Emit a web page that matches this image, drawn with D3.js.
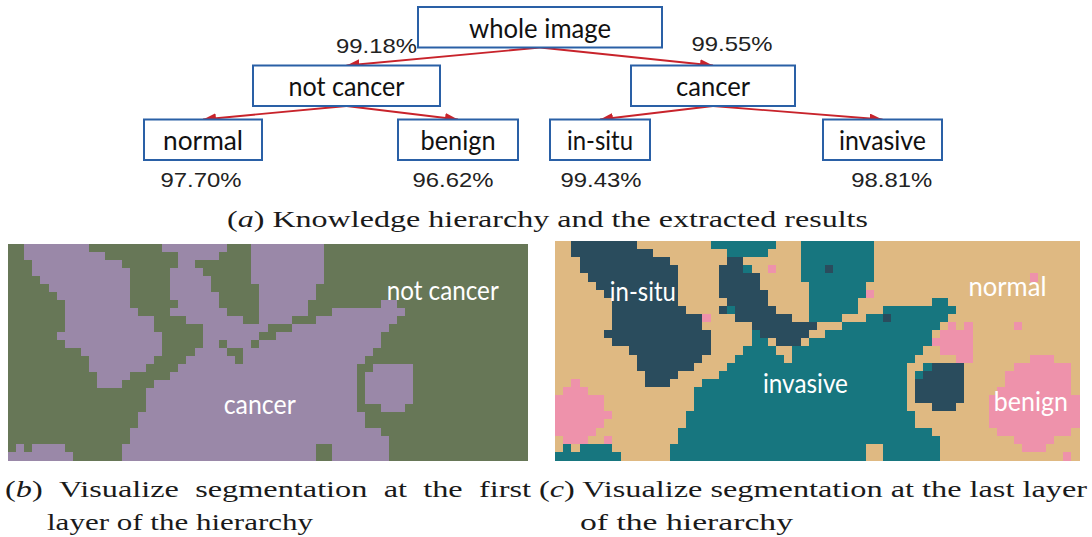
<!DOCTYPE html>
<html>
<head>
<meta charset="utf-8">
<script src="https://cdn.jsdelivr.net/npm/d3@7"></script>
<style>
  body { margin: 0; background: #fff; }
  svg { display: block; }
</style>
</head>
<body>
<svg width="1092" height="537"></svg>
<script>
// ---------- data ----------
// knowledge hierarchy
const treeNames   = ['whole image', 'not cancer', 'cancer', 'normal', 'benign', 'in-situ', 'invasive'];
const treeParents = [null, 'whole image', 'whole image', 'not cancer', 'not cancer', 'cancer', 'cancer'];
const treeAcc     = [null, 99.18, 99.55, 97.70, 96.62, 99.43, 98.81];

// segmentation map, 64 x 27 cells; each row lists spans "<class><from>-<to>" over normal tissue
// n = normal, b = benign, s = in-situ, i = invasive
const segClasses = ['n', 'b', 's', 'i'];
const segRows = [
  's2-9 i19-26 i30-38',
  's2-11 i21-25 i30-38',
  's3-13 s21-22 i30-38',
  's3-14 s20-22 i23 b26 i30-38 s33',
  's4-14 s20-24 i30-38 b58',
  's5-14 s20-24 i31-37',
  's6-14 s20-25 i31-37 b38',
  's7-14 s21-25 i31-36 i46-47',
  's7-15 s20-26 i21 i31-36 i40-48',
  's7-17 b18 s22-28 i31-34 i38-47 s40',
  's7-17 s24-31 i35-46 b48 b50 b56',
  's6-18 i24 s25-30 i33-45 b47-50',
  's7-18 i24-25 s27-29 i31-45 b46-50',
  's9-18 i23-26 i29-44 b47-50',
  's10-17 i22-27 i29-43 b49-50 b58-60',
  's10-16 i21-42 i45 s46-49 b56-62',
  's11-14 i20-42 i44 s45-49 b55-62',
  'b2 s11-13 i18-42 s44-49 b55-62',
  'b1-3 i17-42 s44-49 b54-62',
  'b0-5 i17-42 s44-49 b53-63',
  'b0-5 i17-42 s46-48 b53-63',
  'b0-6 i16-43 b53-63',
  'b0-5 i16-43 b53-63',
  'b0-4 i15-45 b54-62',
  'b1-3 b6 i15-46 b56-60',
  'i1 i3-5 i6 i14-46 n38-39 b57-59',
  'i0-7 i14-46 n38-39 b62'
];
const segCols = 64;

const firstLayerLabels = ['not cancer', 'cancer'];
const lastLayerLabels  = ['in-situ', 'normal', 'invasive', 'benign'];

const captionA  = 'Knowledge hierarchy and the extracted results';
const captionB1 = 'Visualize segmentation at the first';
const captionB2 = 'layer of the hierarchy';
const captionC1 = 'Visualize segmentation at the last layer';
const captionC2 = 'of the hierarchy';

// ---------- layout ----------
const svg = d3.select('svg');
const red = '#c8232b', blue = '#2a60a6';

const boxLayout = {
  'whole image': { cx: 540,   w: 244, tw: 142 },
  'not cancer':  { cx: 346.5, w: 187, tw: 116 },
  'cancer':      { cx: 713,   w: 164, tw: 74 },
  'normal':      { cx: 203,   w: 118, tw: 80 },
  'benign':      { cx: 458,   w: 120, tw: 75 },
  'in-situ':     { cx: 600,   w: 100, tw: 66 },
  'invasive':    { cx: 882.5, w: 119, tw: 87 }
};
const pctLayout = {
  'not cancer': [376.5, 52.7],
  'cancer':     [732, 50.7],
  'normal':     [201, 186.7],
  'benign':     [453, 186.7],
  'in-situ':    [601, 186.7],
  'invasive':   [891.7, 186.7]
};
const levelTop = d3.scaleOrdinal().domain([0, 1, 2]).range([7, 65.5, 119.5]);
const boxH = 40.5;

// ---------- tree ----------
const root = d3.stratify()
  .id(d => d.name)
  .parentId(d => d.parent)(treeNames.map((name, i) => ({ name: name, parent: treeParents[i], acc: treeAcc[i] })));

const nodes = root.descendants();
nodes.forEach(function(n) {
  const L = boxLayout[n.id];
  n.cx = L.cx;
  n.x0 = L.cx - L.w / 2;
  n.w = L.w;
  n.y0 = levelTop(n.depth);
});

svg.append('defs').append('marker')
  .attr('id', 'arrow')
  .attr('viewBox', '0 0 13 10')
  .attr('refX', 13).attr('refY', 5)
  .attr('markerWidth', 13).attr('markerHeight', 10)
  .attr('markerUnits', 'userSpaceOnUse')
  .attr('orient', 'auto')
  .append('path')
  .attr('d', 'M0,0L13,5L0,10Z')
  .attr('fill', red);

svg.append('g')
  .selectAll('line')
  .data(root.links())
  .enter()
  .append('line')
  .attr('x1', d => d.source.cx)
  .attr('y1', d => d.source.y0 + boxH)
  .attr('x2', d => d.target.cx)
  .attr('y2', d => d.target.y0)
  .attr('stroke', red)
  .attr('stroke-width', 1.8)
  .attr('marker-end', 'url(#arrow)');

const box = svg.append('g').selectAll('g').data(nodes).enter().append('g');
box.append('rect')
  .attr('x', d => d.x0)
  .attr('y', d => d.y0)
  .attr('width', d => d.w)
  .attr('height', boxH)
  .attr('fill', '#fff')
  .attr('stroke', blue)
  .attr('stroke-width', 2);
box.append('text')
  .attr('x', d => d.cx)
  .attr('y', d => d.y0 + 30.5)
  .attr('text-anchor', 'middle')
  .attr('textLength', d => boxLayout[d.id].tw)
  .attr('lengthAdjust', 'spacingAndGlyphs')
  .style('font-family', 'Lato, "Open Sans", sans-serif')
  .style('font-size', '27px')
  .style('fill', '#111')
  .text(d => d.id);

svg.append('g')
  .selectAll('text')
  .data(nodes.filter(d => d.data.acc != null))
  .enter()
  .append('text')
  .attr('x', d => pctLayout[d.id][0])
  .attr('y', d => pctLayout[d.id][1])
  .attr('text-anchor', 'middle')
  .attr('textLength', 81)
  .attr('lengthAdjust', 'spacingAndGlyphs')
  .style('font-family', '"Liberation Sans", Arial, sans-serif')
  .style('font-size', '21px')
  .style('fill', '#222')
  .text(d => d.data.acc.toFixed(2) + '%');

// ---------- segmentation maps ----------
function parseRow(spec) {
  const row = new Array(segCols).fill('n');
  spec.split(' ').filter(Boolean).forEach(function(t) {
    const k = t[0];
    const parts = t.slice(1).split('-').map(Number);
    const a = parts[0], b = parts.length > 1 ? parts[1] : parts[0];
    for (let c = a; c <= b; c++) row[c] = k;
  });
  return row;
}
const cells = [];
segRows.forEach(function(spec, r) {
  parseRow(spec).forEach(function(k, c) { cells.push({ r: r, c: c, k: k }); });
});

const colorFirst = d3.scaleOrdinal().domain(segClasses).range(['#677757', '#677757', '#9a88a8', '#9a88a8']);
const colorLast  = d3.scaleOrdinal().domain(segClasses).range(['#dfb982', '#ee92ab', '#2a4c5d', '#17767f']);

function drawSeg(x0, x1, y0, y1, color, labels, labelPos) {
  const x = d3.scaleBand().domain(d3.range(segCols)).range([x0, x1]);
  const y = d3.scaleBand().domain(d3.range(segRows.length)).range([y0, y1]);
  const xc = d3.scaleLinear().domain([0, segCols]).range([x0, x1]);
  const yc = d3.scaleLinear().domain([0, segRows.length]).range([y0, y1]);
  const g = svg.append('g');
  g.selectAll('rect')
    .data(cells)
    .enter()
    .append('rect')
    .attr('x', d => x(d.c))
    .attr('y', d => y(d.r))
    .attr('width', x.bandwidth() + 0.6)
    .attr('height', y.bandwidth() + 0.6)
    .attr('fill', d => color(d.k))
    .attr('shape-rendering', 'crispEdges');
  g.selectAll('text')
    .data(labels)
    .enter()
    .append('text')
    .attr('x', (d, i) => xc(labelPos[i][0]))
    .attr('y', (d, i) => yc(labelPos[i][1]))
    .attr('textLength', (d, i) => labelPos[i][2])
    .attr('lengthAdjust', 'spacingAndGlyphs')
    .style('font-family', 'Lato, "Open Sans", sans-serif')
    .style('font-size', '26px')
    .style('fill', '#fff')
    .text(d => d);
}

drawSeg(8, 527, 244, 460, colorFirst, firstLayerLabels, [[46.7, 7.05, 112], [26.6, 21.25, 72]]);
drawSeg(555, 1079, 241, 460, colorLast, lastLayerLabels, [[6.7, 7.4, 66], [50.5, 6.8, 78], [25.4, 18.8, 85], [53.6, 20.9, 74]]);

// ---------- captions ----------
const capFont = '"Liberation Serif", "Times New Roman", serif';
function capText(x, yb, letter, text) {
  const t = svg.append('text')
    .attr('x', x).attr('y', yb)
    .style('font-family', capFont)
    .style('font-size', '23px')
    .style('fill', '#1a1a1a');
  if (letter) {
    t.append('tspan').text('(');
    t.append('tspan').style('font-style', 'italic').text(letter);
    t.append('tspan').text(')' + (text ? ' ' + text : ''));
  } else {
    t.text(text);
  }
  return t;
}
function caption(x, yb, letter, text, width) {
  const t = capText(x, yb, letter, text);
  const natural = t.node().getComputedTextLength();
  t.attr('textLength', width).attr('lengthAdjust', 'spacingAndGlyphs');
  return width / natural;
}
caption(227, 227, 'a', captionA, 641);
const stretch = caption(539, 497, 'c', captionC1, 548);
caption(47, 530, null, captionB2, 266);
caption(580, 530, null, captionC2, 213);

// (b) first line is justified: words keep the same glyph stretch, gaps fill the line
(function() {
  const words = [{ letter: 'b', text: '' }].concat(captionB1.split(' ').map(w => ({ letter: null, text: w })));
  const x0 = 5, x1 = 531;
  const widths = words.map(function(w) {
    const t = capText(0, -50, w.letter, w.text);
    const len = t.node().getComputedTextLength() * stretch;
    t.remove();
    return len;
  });
  const gap = (x1 - x0 - d3.sum(widths)) / (words.length - 1);
  let cx = x0;
  words.forEach(function(w, i) {
    capText(cx, 497, w.letter, w.text)
      .attr('textLength', widths[i])
      .attr('lengthAdjust', 'spacingAndGlyphs');
    cx += widths[i] + gap;
  });
})();
</script>
</body>
</html>
